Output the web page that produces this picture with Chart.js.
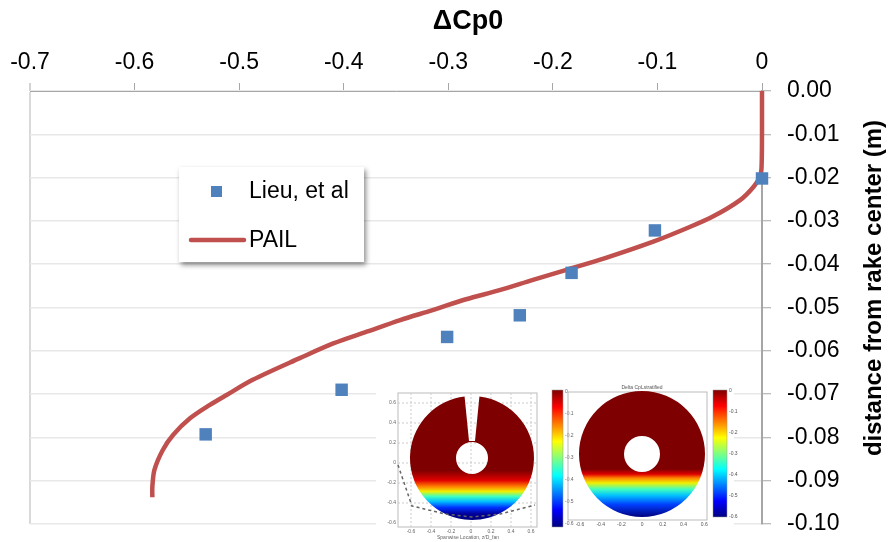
<!DOCTYPE html>
<html>
<head>
<meta charset="utf-8">
<script src="https://cdn.jsdelivr.net/npm/chart.js@4.4.1/dist/chart.umd.min.js"></script>
<style>
html,body{margin:0;padding:0;background:#fff;}
#wrap{width:888px;height:542px;position:relative;}
</style>
</head>
<body>
<div id="wrap"><canvas id="c"></canvas></div>
<script>
// ---- data ----
const xTickMin = -0.7, xTickMax = 0, xStep = 0.1;
const yTickMin = -0.10, yTickMax = 0.00, yStep = 0.01;
const lieuX = [0, -0.1024, -0.1821, -0.2316, -0.3011, -0.402, -0.532];
const lieuY = [-0.0202, -0.0322, -0.042, -0.0518, -0.0568, -0.069, -0.0793];
const pailX = [0, 0, -0.0005, -0.002, -0.008, -0.021, -0.047, -0.072, -0.104, -0.150, -0.187, -0.219, -0.251, -0.283, -0.315, -0.346, -0.378, -0.410, -0.442, -0.487, -0.512, -0.528, -0.547, -0.563, -0.573, -0.581, -0.583, -0.583];
const pailY = [0, -0.010, -0.018, -0.0198, -0.0221, -0.0252, -0.029, -0.0317, -0.0348, -0.0386, -0.0413, -0.0436, -0.046, -0.0481, -0.0506, -0.0529, -0.0556, -0.0583, -0.0617, -0.0667, -0.0702, -0.0725, -0.0756, -0.0794, -0.0829, -0.0875, -0.0914, -0.0938];
const seriesNames = ['Lieu, et al', 'PAIL'];
const xTitle = 'ΔCp0';
const yTitle = 'distance from rake center (m)';

const FONT = "'Liberation Sans', Arial, sans-serif";
const BLUE = '#4F81BD', RED = '#C0504D';

// jet colormap stops
const JET = ['#7f0000','#ff0000','#ff7f00','#ffff00','#7fff7f','#00ffff','#007fff','#0000ff','#00007f'];

function jetGrad(ctx, y0, y1, stops){
  const g = ctx.createLinearGradient(0, y0, 0, y1);
  stops.forEach(s => g.addColorStop(s[0], s[1]));
  return g;
}

const titlesPlugin = {
  id: 'titles',
  afterDraw(chart){
    const ctx = chart.ctx;
    ctx.save();
    ctx.fillStyle = '#000';
    ctx.font = "bold 27px " + FONT;
    ctx.textAlign = 'center';
    ctx.textBaseline = 'middle';
    ctx.fillText(xTitle, 468, 22);
    ctx.translate(874, 288);
    ctx.rotate(-Math.PI/2);
    ctx.font = "bold 24px " + FONT;
    ctx.fillText(yTitle, 0, 0);
    ctx.restore();
  }
};

const legendPlugin = {
  id: 'customLegend',
  afterDatasetsDraw(chart){
    const ctx = chart.ctx;
    ctx.save();
    ctx.shadowColor = 'rgba(0,0,0,0.45)';
    ctx.shadowBlur = 5;
    ctx.shadowOffsetX = 2;
    ctx.shadowOffsetY = 3;
    ctx.fillStyle = '#fff';
    ctx.fillRect(179, 167, 185, 95);
    ctx.restore();
    ctx.save();
    const ds0 = chart.data.datasets[0], ds1 = chart.data.datasets[1];
    ctx.fillStyle = ds0.backgroundColor;
    ctx.fillRect(211, 186, 11, 11);
    ctx.strokeStyle = ds1.borderColor;
    ctx.lineWidth = 4.5;
    ctx.lineCap = 'round';
    ctx.beginPath(); ctx.moveTo(191, 240); ctx.lineTo(244, 240); ctx.stroke();
    ctx.fillStyle = '#000';
    ctx.font = "23px " + FONT;
    ctx.textAlign = 'left';
    ctx.textBaseline = 'middle';
    ctx.fillText(ds0.label, 249, 192);
    ctx.fillText(ds1.label, 249, 241);
    ctx.restore();
  }
};

const insetPlugin = {
  id: 'inset',
  beforeDatasetsDraw(chart){
    const ctx = chart.ctx;
    ctx.save();
    ctx.fillStyle = '#fff';
    ctx.fillRect(376, 380, 358, 162);
    // ---- left plot ----
    ctx.strokeStyle = '#bbb'; ctx.lineWidth = 1;
    ctx.strokeRect(398, 393, 139, 134);
    ctx.setLineDash([2,2]);
    ctx.strokeStyle = '#ccc';
    for (let i=0;i<7;i++){ const x = 411 + i*20; ctx.beginPath(); ctx.moveTo(x,393); ctx.lineTo(x,527); ctx.stroke(); }
    for (let i=0;i<6;i++){ const y = 403 + i*20; ctx.beginPath(); ctx.moveTo(398,y); ctx.lineTo(537,y); ctx.stroke(); }
    ctx.setLineDash([]);
    // disk with notch and hole
    const cx1 = 472, cy1 = 458, r1 = 62;
    ctx.save();
    ctx.beginPath();
    ctx.arc(cx1, cy1, r1, -Math.PI/2 + 0.12, -Math.PI/2 - 0.12 + 2*Math.PI);
    ctx.lineTo(cx1 - 3, cy1 - 17);
    ctx.lineTo(cx1 + 3, cy1 - 17);
    ctx.closePath();
    ctx.moveTo(cx1 + 16, cy1);
    ctx.arc(cx1, cy1, 16, 0, 2*Math.PI, true);
    ctx.fillStyle = jetGrad(ctx, cy1 - r1, cy1 + r1, [[0,'#7f0000'],[0.6,'#7f0000'],[0.68,'#e00000'],[0.73,'#ff8000'],[0.77,'#f0f000'],[0.81,'#40ffc0'],[0.85,'#00c0ff'],[0.9,'#0030ff'],[0.95,'#00009a'],[1,'#00007f']]);
    ctx.fill('evenodd');
    ctx.restore();
    // dashed curve
    ctx.setLineDash([3,3]); ctx.strokeStyle = '#666'; ctx.lineWidth = 1.5;
    ctx.beginPath(); ctx.moveTo(398,465); ctx.lineTo(412,506); ctx.lineTo(445,514); ctx.lineTo(472,517); ctx.lineTo(500,514); ctx.lineTo(535,505); ctx.stroke();
    ctx.setLineDash([]);
    // left colorbar
    ctx.fillStyle = jetGrad(ctx, 390, 527, JET.map((c,i)=>[i/(JET.length-1), c]));
    ctx.fillRect(552, 390, 11, 137);
    ctx.strokeStyle = '#999'; ctx.lineWidth = 0.5; ctx.strokeRect(552, 390, 11, 137);
    // tiny tick labels
    ctx.fillStyle = '#666'; ctx.font = "5px " + FONT; ctx.textAlign = 'center'; ctx.textBaseline = 'top';
    ['-0.6','-0.4','-0.2','0','0.2','0.4','0.6'].forEach((t,i)=>ctx.fillText(t, 411 + i*20, 529));
    ctx.fillText('Spanwise Location, z/D_fan', 468, 535);
    ctx.textAlign = 'right'; ctx.textBaseline = 'middle';
    ['0.6','0.4','0.2','0','-0.2','-0.4','-0.6'].forEach((t,i)=>ctx.fillText(t, 396, 403 + i*20));
    ctx.textAlign = 'left';
    ['0','-0.1','-0.2','-0.3','-0.4','-0.5','-0.6'].forEach((t,i)=>ctx.fillText(t, 565, 392 + i*22));
    // ---- right plot ----
    ctx.strokeStyle = '#bbb'; ctx.lineWidth = 1;
    ctx.strokeRect(568, 392, 139, 128);
    const cx2 = 642, cy2 = 454, r2 = 63;
    ctx.beginPath();
    ctx.arc(cx2, cy2, r2, 0, 2*Math.PI);
    ctx.moveTo(cx2 + 18, cy2);
    ctx.arc(cx2, cy2, 18, 0, 2*Math.PI, true);
    ctx.fillStyle = jetGrad(ctx, cy2 - r2, cy2 + r2, [[0,'#7f0000'],[0.62,'#7f0000'],[0.66,'#e00000'],[0.69,'#ff8000'],[0.73,'#f0f000'],[0.78,'#40ffc0'],[0.83,'#00c0ff'],[0.9,'#0040ff'],[1,'#00007f']]);
    ctx.fill('evenodd');
    ctx.fillStyle = jetGrad(ctx, 390, 517, JET.map((c,i)=>[i/(JET.length-1), c]));
    ctx.fillRect(713, 390, 14, 127);
    ctx.strokeStyle = '#999'; ctx.lineWidth = 0.5; ctx.strokeRect(713, 390, 14, 127);
    ctx.fillStyle = '#555'; ctx.font = "5px " + FONT; ctx.textAlign = 'center'; ctx.textBaseline = 'bottom';
    ctx.fillText('Delta CpLstratified', 642, 390);
    ctx.textBaseline = 'top';
    ['-0.6','-0.4','-0.2','0','0.2','0.4','0.6'].forEach((t,i)=>ctx.fillText(t, 580 + i*20.7, 522));
    ctx.textAlign = 'left'; ctx.textBaseline = 'middle';
    ['0','-0.1','-0.2','-0.3','-0.4','-0.5','-0.6'].forEach((t,i)=>ctx.fillText(t, 729, 391 + i*21));
    ctx.restore();
  }
};

new Chart(document.getElementById('c'), {
  type: 'scatter',
  data: {
    datasets: [
      {
        label: seriesNames[0],
        data: lieuX.map((x,i)=>({x, y: lieuY[i]})),
        pointStyle: 'rect',
        pointRadius: 8.8,
        backgroundColor: BLUE,
        borderColor: BLUE,
        borderWidth: 0,
        clip: false,
        order: 0
      },
      {
        label: seriesNames[1],
        data: pailX.map((x,i)=>({x, y: pailY[i]})),
        showLine: true,
        pointRadius: 0,
        borderColor: RED,
        backgroundColor: RED,
        borderWidth: 4.5,
        tension: 0.3,
        clip: 3,
        order: 1
      }
    ]
  },
  options: {
    responsive: true,
    maintainAspectRatio: false,
    animation: false,
    layout: { padding: { left: 30, right: 0, top: 0, bottom: 18 } },
    plugins: { legend: { display: false }, tooltip: { enabled: false }, title: { display: false } },
    scales: {
      x: {
        type: 'linear',
        position: 'top',
        min: xTickMin, max: xTickMax,
        afterFit(s){ s.height = 91; s.paddingLeft = 0; s.paddingRight = 0; },
        ticks: {
          stepSize: xStep,
          color: '#000',
          font: { family: FONT, size: 23 },
          padding: 7,
          maxRotation: 0,
          callback: v => Math.abs(v) < 1e-9 ? '0' : v.toFixed(1)
        },
        grid: {
          drawOnChartArea: true,
          color: c => (c.tick && Math.abs(c.tick.value - xTickMin) < 1e-9) ? '#d9d9d9' : 'rgba(0,0,0,0)',
          lineWidth: c => (c.tick && Math.abs(c.tick.value - xTickMin) < 1e-9) ? 2 : 1,
          tickColor: '#a6a6a6',
          tickLength: 8,
          tickWidth: 1
        },
        border: { display: true, color: '#a6a6a6', width: 1 }
      },
      y: {
        type: 'linear',
        position: 'right',
        min: yTickMin, max: yTickMax,
        afterFit(s){ s.width = 126; s.paddingTop = 0; s.paddingBottom = 0; },
        ticks: {
          stepSize: yStep,
          color: '#000',
          font: { family: FONT, size: 23 },
          padding: 16,
          callback: v => (Math.abs(v) < 1e-9 ? 0 : v).toFixed(2)
        },
        grid: {
          color: '#e8e8e8',
          lineWidth: 1.5,
          tickColor: '#a6a6a6',
          tickLength: 9,
          tickWidth: 1
        },
        border: { display: true, color: '#a6a6a6', width: 2 }
      }
    }
  },
  plugins: [insetPlugin, legendPlugin, titlesPlugin]
});
</script>
</body>
</html>
